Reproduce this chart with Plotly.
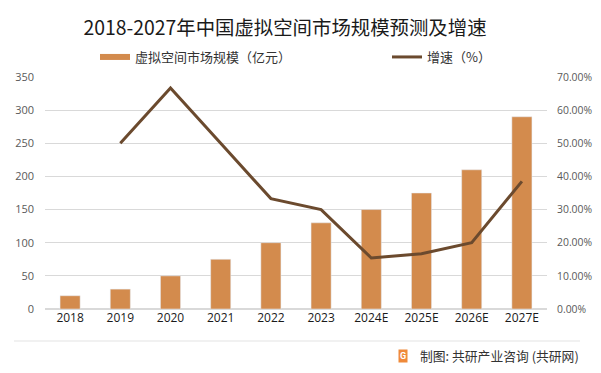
import plotly.graph_objects as go

years = ["2018", "2019", "2020", "2021", "2022", "2023", "2024E", "2025E", "2026E", "2027E"]
market_size = [20, 30, 50, 75, 100, 130, 150, 175, 210, 290]
growth = [None, 0.50, 0.667, 0.50, 0.333, 0.30, 0.154, 0.167, 0.20, 0.385]

bar_name = "虚拟空间市场规模（亿元）"
line_name = "增速（%）"
title_text = "2018-2027年中国虚拟空间市场规模预测及增速"
source_text = "制图: 共研产业咨询 (共研网)"

BAR_COLOR = "#D38B4D"
LINE_COLOR = "#6B4A2E"
GRID = "#D9D9D9"
CJK = "Noto Sans CJK SC"

# The page body has an 8px default margin, so the figure is 16px smaller
W, H = 585, 357
L, R, T, B = 37, 46, 69, 56
PW, PH = W - L - R, H - T - B

fig = go.Figure()
fig.add_trace(go.Bar(x=years, y=market_size, name=bar_name, marker_color=BAR_COLOR,
                     showlegend=False, yaxis="y"))
# legend swatch for the bars (flat rectangle, as in the reference)
fig.add_trace(go.Scatter(x=[None], y=[None], mode="lines", name=bar_name,
                         line=dict(color=BAR_COLOR, width=6), yaxis="y", legend="legend"))
fig.add_trace(go.Scatter(x=years, y=growth, name=line_name, mode="lines",
                         line=dict(color=LINE_COLOR, width=3), yaxis="y2",
                         connectgaps=False, legend="legend2"))

legend_common = dict(orientation="h", xref="container", xanchor="left",
                     yref="container", yanchor="middle", y=1 - 49 / H,
                     font=dict(family=CJK, size=13, color="#333333"),
                     bgcolor="rgba(0,0,0,0)")

def px(xp):
    return (xp - L) / PW

def py(yp):
    return (H - B - yp) / PH

fig.update_layout(
    width=W, height=H,
    margin=dict(l=L, r=R, t=T, b=B, autoexpand=False),
    paper_bgcolor="white", plot_bgcolor="white",
    bargap=0.6,
    title=dict(text=title_text, x=277 / W, xref="container", xanchor="center",
               y=1 - 20 / H, yref="container", yanchor="middle",
               font=dict(family=CJK, size=19.4, color="#1A1A1A")),
    legend=dict(x=87 / W, **legend_common),
    legend2=dict(x=379 / W, **legend_common),
    xaxis=dict(showgrid=False, showline=False, ticks="", zeroline=False,
               tickfont=dict(family="Open Sans", size=12, color="#1A1A1A")),
    yaxis=dict(range=[0, 350], dtick=50, showgrid=True, gridcolor=GRID, gridwidth=1,
               zeroline=True, zerolinecolor=GRID, showline=False, ticks="",
               ticklabelstandoff=10,
               tickfont=dict(family="Open Sans", size=11, color="#595959")),
    yaxis2=dict(range=[0, 0.7], dtick=0.1, tickformat=".2%", overlaying="y", side="right",
                showgrid=False, zeroline=False, showline=False, ticks="",
                ticklabelstandoff=9,
                tickfont=dict(family="Open Sans", size=10.4, color="#595959")),
    shapes=[dict(type="line", xref="paper", yref="paper", x0=px(6), x1=px(572),
                 y0=py(333), y1=py(333), line=dict(color="#E3E3E3", width=1))],
    annotations=[
        dict(text=source_text, xref="paper", yref="paper", x=px(410), xanchor="left",
             y=py(347.5), yanchor="middle", showarrow=False,
             font=dict(family=CJK, size=12.8, color="#333333")),
        dict(text="<b>G</b>", xref="paper", yref="paper", x=px(395), xanchor="center",
             y=py(347.5), yanchor="middle", showarrow=False, bgcolor="#EF8A3A",
             borderpad=1, font=dict(family="Roboto", size=9, color="white")),
    ],
)

fig.write_html("out.html")
